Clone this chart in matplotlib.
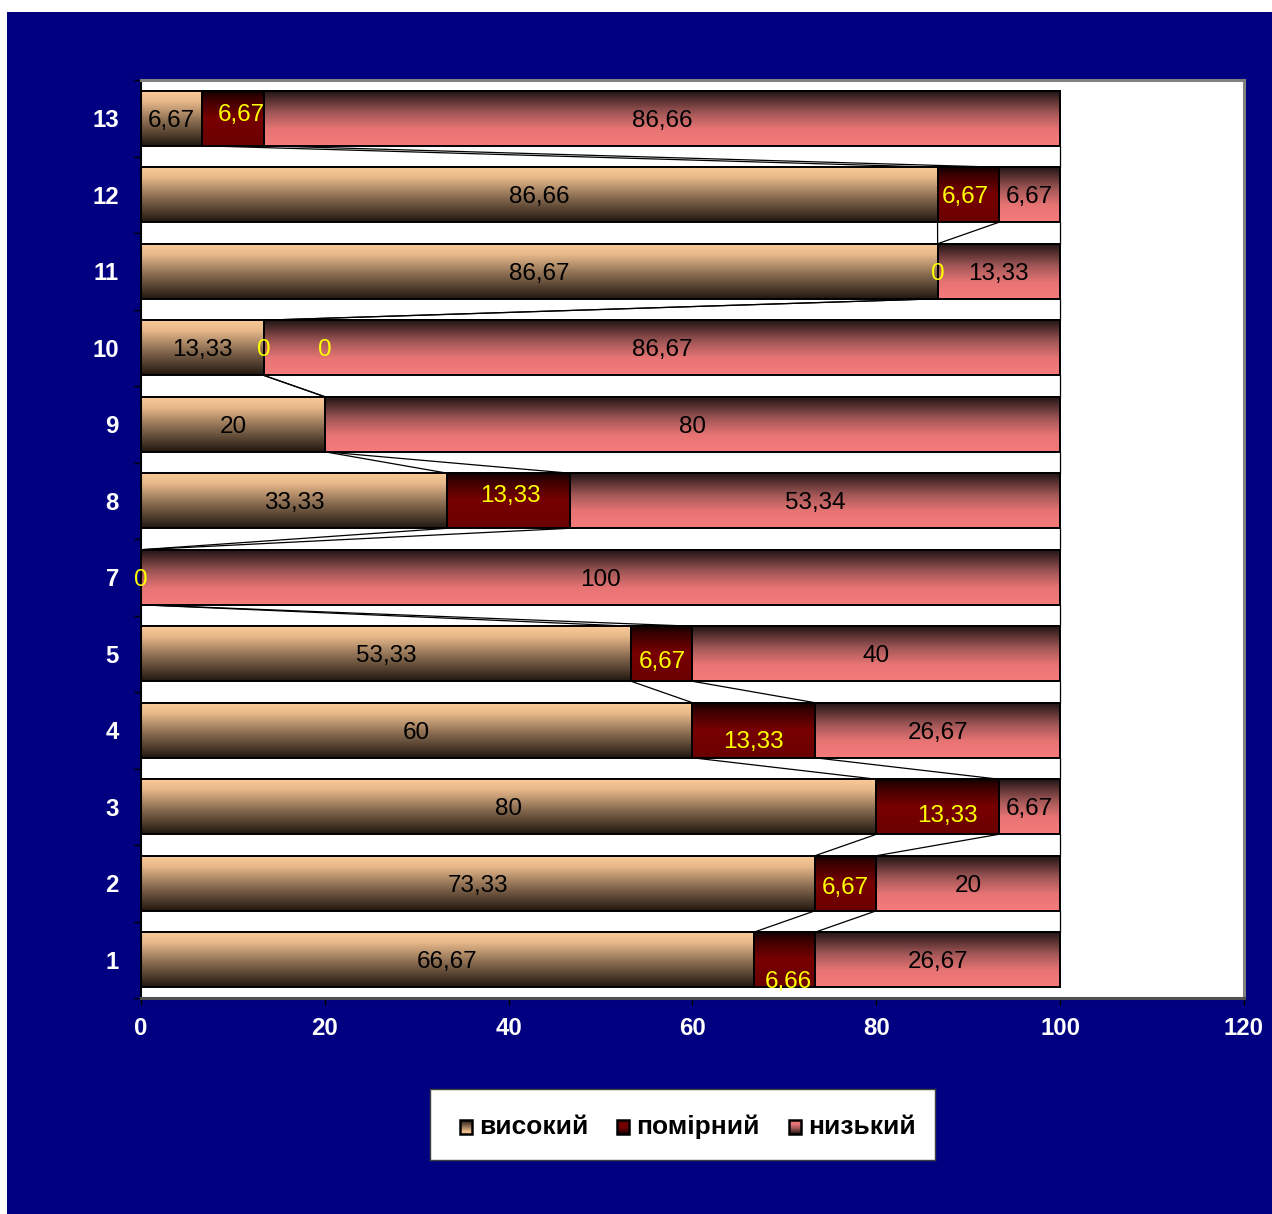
import numpy as np
import matplotlib
matplotlib.use("Agg")
import matplotlib.pyplot as plt
from matplotlib.colors import LinearSegmentedColormap
from matplotlib.patches import Rectangle

plt.rcParams['font.family'] = ['Liberation Sans', 'DejaVu Sans']

# rows from bottom to top
rows = ['1', '2', '3', '4', '5', '7', '8', '9', '10', '11', '12', '13']
high = [66.67, 73.33, 80, 60, 53.33, 0, 33.33, 20, 13.33, 86.67, 86.66, 6.67]
moderate = [6.66, 6.67, 13.33, 13.33, 6.67, 0, 13.33, 0, 0, 0, 6.67, 6.67]
low = [26.67, 20, 6.67, 26.67, 40, 100, 53.34, 80, 86.67, 13.33, 6.67, 86.66]
series_names = ['високий', 'помірний', 'низький']

# nudges (points) for the yellow labels of the middle series
mod_nudge = [(3, -14), (0, -2), (7, -5), (0, -7), (0, -4), (0, 0),
             (1.5, 5), (0, 55), (0, 0), (0, 0), (-2, 0), (6, 4)]

navy = '#000080'
cm_high = LinearSegmentedColormap.from_list('hi', [(0, '#201710'), (0.45, '#8c6e52'), (0.8, '#e8b98a'), (1, '#fccb98')])
cm_mod = LinearSegmentedColormap.from_list('mo', [(0, '#6a0000'), (0.5, '#780000'), (0.85, '#3a0000'), (1, '#0a0000')])
cm_low = LinearSegmentedColormap.from_list('lo', [(0, '#f77b7b'), (0.3, '#e87474'), (0.6, '#a05656'), (1, '#1c1212')])
cmaps = [cm_high, cm_mod, cm_low]
grad = np.linspace(0, 1, 256).reshape(-1, 1)

fig = plt.figure(figsize=(12.72, 12.14), dpi=100, facecolor='white')
fig.patches.append(Rectangle((7 / 1272, 0), 1, 1 - 12 / 1214, transform=fig.transFigure,
                             facecolor=navy, edgecolor='none', zorder=-10))

ax = fig.add_axes([141 / 1272, 1 - 998 / 1214, 1103 / 1272, 918 / 1214])
ax.set_facecolor('white')

y = np.arange(len(rows))
h = 0.72
vals = [high, moderate, low]
lefts = np.zeros(len(rows))
for k, v in enumerate(vals):
    bars = ax.barh(y, v, left=lefts, height=h, facecolor='none', edgecolor='black', linewidth=1.4, zorder=3)
    for b in bars:
        if b.get_width() <= 0:
            continue
        x0, y0 = b.get_x(), b.get_y()
        ax.imshow(grad, extent=(x0, x0 + b.get_width(), y0, y0 + b.get_height()),
                  aspect='auto', origin='lower', cmap=cmaps[k], zorder=2, interpolation='bilinear')
    lefts = lefts + np.array(v)

# series lines between neighbouring bars
cum = np.cumsum(np.array(vals), axis=0)
for i in range(len(rows) - 1):
    for k in range(3):
        ax.plot([cum[k][i], cum[k][i + 1]], [y[i] + h / 2, y[i + 1] - h / 2],
                color='black', linewidth=0.9, zorder=1)

# value labels
def fmt(v):
    return ('%g' % v).replace('.', ',')

def label(x, yy, s, color, off=(0, 0)):
    ax.annotate(s, (x, yy), xytext=(off[0], off[1] - 1.7), textcoords='offset points',
                ha='center', va='center', fontsize=17.5, color=color, zorder=5,
                annotation_clip=False)

for i in range(len(rows)):
    if high[i] > 0:
        label(high[i] / 2, y[i], fmt(high[i]), 'black')
    if low[i] > 0:
        label(high[i] + moderate[i] + low[i] / 2, y[i], fmt(low[i]), 'black')
    label(high[i] + moderate[i] / 2, y[i], fmt(moderate[i]), '#ffff00', mod_nudge[i])

ax.set_xlim(0, 120)
ax.set_ylim(-0.5, len(rows) - 0.5)
ax.set_xticks(np.arange(0, 121, 20))
ax.set_yticks(y)
ax.set_yticklabels(rows)
ax.set_yticks(np.arange(-0.5, len(rows), 1), minor=True)
ax.tick_params(axis='y', which='major', length=0, pad=16)
ax.tick_params(axis='y', which='minor', length=5, width=1, color='black', direction='out')
ax.tick_params(axis='x', length=5, width=1, color='black', direction='out', pad=9)
for lab in ax.get_yticklabels() + ax.get_xticklabels():
    lab.set_color('white')
    lab.set_fontweight('bold')
    lab.set_fontsize(17.3)

ax.spines['top'].set_color('#808080')
ax.spines['right'].set_color('#808080')
ax.spines['top'].set_linewidth(2.2)
ax.spines['right'].set_linewidth(2.2)
ax.spines['left'].set_color('black')
ax.spines['left'].set_linewidth(1.5)
ax.spines['bottom'].set_color('#505050')
ax.spines['bottom'].set_linewidth(2.2)

# legend box drawn in its own axes, pixel units
lg = fig.add_axes([430 / 1272, 1 - 1160 / 1214, 505 / 1272, 71 / 1214])
lg.set_facecolor('white')
lg.set_xticks([])
lg.set_yticks([])
for s in lg.spines.values():
    s.set_color('#404040')
    s.set_linewidth(1)
marker_x = [30, 187, 359]
for k, name in enumerate(series_names):
    mx = marker_x[k]
    lg.imshow(grad, extent=(mx, mx + 12, 45, 31), aspect='auto', origin='upper',
              cmap=cmaps[k], zorder=2)
    lg.add_patch(Rectangle((mx, 31), 12, 14, facecolor='none', edgecolor='black', linewidth=1.8, zorder=3))
    lg.text(mx + 19, 38, name, ha='left', va='center', fontsize=19, fontweight='bold', color='black')
lg.set_xlim(0, 505)
lg.set_ylim(71, 0)

fig.savefig('out.png', dpi=100, facecolor='white')
